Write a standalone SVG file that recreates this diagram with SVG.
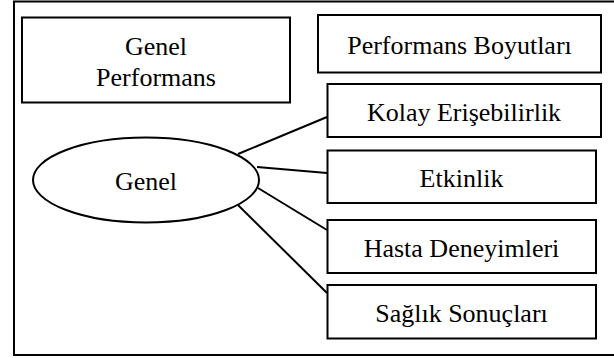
<svg xmlns="http://www.w3.org/2000/svg" width="614" height="358" viewBox="0 0 614 358">
<style>
  .box { fill: #fff; stroke: #000; stroke-width: 2; }
  .lbl { font-family: "Liberation Serif", "DejaVu Serif", serif; font-size: 26px; fill: #000; text-anchor: middle; }
  .conn line { stroke: #000; stroke-width: 2; }
</style>
<rect x="0" y="0" width="614" height="358" fill="#fff"/>
<rect id="frame" x="14" y="1.5" width="604" height="353.5" fill="none" stroke="#000" stroke-width="2"/>
<g id="connectors" class="conn">
  <line x1="238" y1="154" x2="327" y2="117"/>
  <line x1="257" y1="167" x2="327" y2="173"/>
  <line x1="258" y1="188" x2="327" y2="230"/>
  <line x1="238" y1="205" x2="327" y2="293"/>
</g>
<g id="genel-performans">
  <rect class="box" x="22" y="17.5" width="268" height="85"/>
  <text class="lbl" x="156" y="55">Genel</text>
  <text class="lbl" x="156" y="86">Performans</text>
</g>
<g id="performans-boyutlari">
  <rect class="box" x="318" y="15" width="283" height="57.5"/>
  <text class="lbl" x="459.5" y="54">Performans Boyutları</text>
</g>
<g id="genel">
  <ellipse class="box" cx="146" cy="180" rx="113" ry="42.5"/>
  <text class="lbl" x="146" y="190">Genel</text>
</g>
<g id="kolay-erisebilirlik">
  <rect class="box" x="327.5" y="84" width="273.5" height="53"/>
  <text class="lbl" x="464" y="120.5">Kolay Erişebilirlik</text>
</g>
<g id="etkinlik">
  <rect class="box" x="327.5" y="150.5" width="268.5" height="52.5"/>
  <text class="lbl" x="461.5" y="187">Etkinlik</text>
</g>
<g id="hasta-deneyimleri">
  <rect class="box" x="327.5" y="220" width="268.5" height="53"/>
  <text class="lbl" x="461.5" y="257">Hasta Deneyimleri</text>
</g>
<g id="saglik-sonuclari">
  <rect class="box" x="327.5" y="285" width="268.5" height="53.5"/>
  <text class="lbl" x="461.5" y="322">Sağlık Sonuçları</text>
</g>
</svg>
